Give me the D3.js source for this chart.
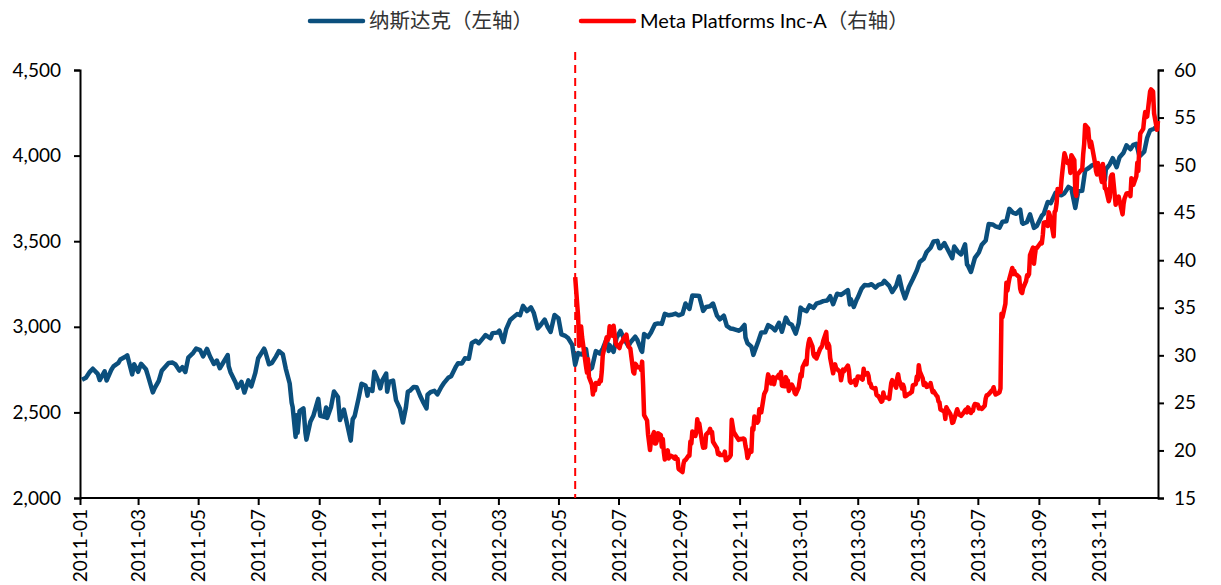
<!DOCTYPE html>
<html><head><meta charset="utf-8">
<script src="https://cdn.jsdelivr.net/npm/d3@7"></script>
<style>
body{margin:0;background:#fff;}
text{font-family:Lato,"Noto Sans CJK SC",sans-serif;fill:#000;}
</style></head><body>
<svg id="c" width="1221" height="585"></svg>
<script>
// ---- data ----
const seriesNames = ["纳斯达克（左轴）", "Meta Platforms Inc-A（右轴）"];
const leftTicks = [2000, 2500, 3000, 3500, 4000, 4500];
const rightTicks = [15, 20, 25, 30, 35, 40, 45, 50, 55, 60];
const xTickLabels = ["2011-01","2011-03","2011-05","2011-07","2011-09","2011-11","2012-01","2012-03","2012-05","2012-07","2012-09","2012-11","2013-01","2013-03","2013-05","2013-07","2013-09","2013-11"];
const ipoDate = "2012-05-18";
const nasdaq = [
["2011-01-03",2691],["2011-01-07",2703],["2011-01-11",2737],["2011-01-14",2755],["2011-01-19",2725],["2011-01-21",2689],["2011-01-26",2740],["2011-01-28",2686],
["2011-02-02",2751],["2011-02-04",2769],["2011-02-09",2789],["2011-02-11",2809],["2011-02-16",2825],["2011-02-18",2833],["2011-02-23",2722],["2011-02-25",2781],
["2011-03-01",2737],["2011-03-04",2784],["2011-03-09",2752],["2011-03-11",2715],["2011-03-16",2617],["2011-03-18",2643],["2011-03-22",2684],["2011-03-25",2743],
["2011-04-01",2789],["2011-04-05",2791],["2011-04-08",2780],["2011-04-12",2744],["2011-04-15",2764],["2011-04-18",2736],["2011-04-21",2820],["2011-04-26",2848],["2011-04-29",2873],
["2011-05-03",2864],["2011-05-06",2827],["2011-05-10",2871],["2011-05-13",2828],["2011-05-17",2783],["2011-05-20",2803],["2011-05-23",2758],["2011-05-27",2796],
["2011-05-31",2835],["2011-06-01",2770],["2011-06-03",2733],["2011-06-08",2675],["2011-06-10",2644],["2011-06-14",2678],["2011-06-17",2616],["2011-06-21",2687],["2011-06-24",2652],["2011-06-28",2729],
["2011-07-01",2816],["2011-07-07",2872],["2011-07-08",2859],["2011-07-12",2781],["2011-07-15",2789],["2011-07-19",2826],["2011-07-22",2858],["2011-07-26",2840],["2011-07-29",2756],
["2011-08-02",2669],["2011-08-04",2556],["2011-08-05",2532],["2011-08-08",2357],["2011-08-09",2483],["2011-08-10",2381],["2011-08-12",2507],["2011-08-16",2523],["2011-08-18",2381],["2011-08-19",2341],["2011-08-23",2446],["2011-08-26",2480],
["2011-08-31",2579],["2011-09-02",2480],["2011-09-06",2474],["2011-09-08",2529],["2011-09-09",2467],["2011-09-13",2532],["2011-09-16",2622],["2011-09-20",2590],["2011-09-22",2455],["2011-09-26",2517],["2011-09-30",2415],
["2011-10-03",2335],["2011-10-05",2460],["2011-10-07",2479],["2011-10-11",2583],["2011-10-14",2667],["2011-10-18",2657],["2011-10-20",2598],["2011-10-21",2637],["2011-10-25",2625],["2011-10-27",2738],["2011-10-31",2684],
["2011-11-02",2640],["2011-11-04",2686],["2011-11-08",2727],["2011-11-09",2621],["2011-11-11",2678],["2011-11-15",2686],["2011-11-18",2572],["2011-11-22",2522],["2011-11-25",2441],["2011-11-28",2527],["2011-11-30",2620],
["2011-12-02",2626],["2011-12-06",2649],["2011-12-09",2647],["2011-12-13",2591],["2011-12-16",2555],["2011-12-19",2523],["2011-12-20",2603],["2011-12-23",2618],["2011-12-27",2626],["2011-12-30",2605],
["2012-01-03",2648],["2012-01-06",2674],["2012-01-10",2702],["2012-01-13",2711],["2012-01-18",2769],["2012-01-20",2787],["2012-01-24",2786],["2012-01-27",2816],["2012-01-31",2814],
["2012-02-03",2906],["2012-02-07",2918],["2012-02-10",2904],["2012-02-14",2931],["2012-02-17",2952],["2012-02-22",2933],["2012-02-24",2963],["2012-02-29",2966],
["2012-03-02",2977],["2012-03-06",2911],["2012-03-09",2988],["2012-03-13",3040],["2012-03-16",3055],["2012-03-20",3074],["2012-03-23",3068],["2012-03-26",3122],["2012-03-30",3092],
["2012-04-03",3114],["2012-04-06",3080],["2012-04-10",2991],["2012-04-13",3011],["2012-04-17",3042],["2012-04-20",3000],["2012-04-23",2970],["2012-04-27",3069],
["2012-05-01",3050],["2012-05-04",2956],["2012-05-08",2947],["2012-05-11",2933],["2012-05-15",2894],["2012-05-18",2778],["2012-05-21",2847],["2012-05-25",2838],["2012-05-29",2870],
["2012-06-01",2747],["2012-06-04",2760],["2012-06-08",2858],["2012-06-12",2843],["2012-06-15",2872],["2012-06-19",2929],["2012-06-21",2859],["2012-06-22",2892],["2012-06-26",2854],["2012-06-29",2935],
["2012-07-03",2976],["2012-07-06",2937],["2012-07-11",2887],["2012-07-13",2908],["2012-07-18",2942],["2012-07-20",2925],["2012-07-24",2863],["2012-07-25",2854],["2012-07-27",2958],["2012-07-31",2940],
["2012-08-03",2967],["2012-08-07",3015],["2012-08-10",3020],["2012-08-14",3017],["2012-08-17",3076],["2012-08-21",3067],["2012-08-24",3070],["2012-08-28",3077],["2012-08-31",3067],
["2012-09-04",3075],["2012-09-07",3136],["2012-09-11",3104],["2012-09-14",3183],["2012-09-19",3182],["2012-09-21",3180],["2012-09-25",3093],["2012-09-28",3116],
["2012-10-02",3120],["2012-10-05",3136],["2012-10-09",3065],["2012-10-12",3044],["2012-10-16",3065],["2012-10-19",3005],["2012-10-23",2990],["2012-10-26",2987],["2012-10-31",2977],
["2012-11-02",2983],["2012-11-06",3011],["2012-11-07",2937],["2012-11-09",2904],["2012-11-13",2884],["2012-11-15",2836],["2012-11-16",2853],["2012-11-20",2916],["2012-11-23",2967],["2012-11-27",2968],["2012-11-30",3010],
["2012-12-04",2996],["2012-12-07",2979],["2012-12-11",3023],["2012-12-14",2971],["2012-12-18",3054],["2012-12-21",3021],["2012-12-24",3012],["2012-12-28",2960],["2012-12-31",3020],
["2013-01-02",3112],["2013-01-04",3101],["2013-01-08",3091],["2013-01-11",3125],["2013-01-15",3110],["2013-01-18",3135],["2013-01-22",3143],["2013-01-25",3150],["2013-01-29",3154],["2013-02-01",3179],
["2013-02-04",3132],["2013-02-08",3193],["2013-02-12",3186],["2013-02-15",3198],["2013-02-19",3214],["2013-02-21",3131],["2013-02-22",3161],["2013-02-25",3116],["2013-02-28",3160],
["2013-03-01",3170],["2013-03-05",3224],["2013-03-08",3244],["2013-03-12",3242],["2013-03-15",3249],["2013-03-19",3229],["2013-03-22",3245],["2013-03-26",3252],["2013-03-28",3268],
["2013-04-02",3239],["2013-04-05",3203],["2013-04-09",3238],["2013-04-12",3294],["2013-04-15",3217],["2013-04-18",3166],["2013-04-22",3233],["2013-04-26",3279],["2013-04-30",3329],
["2013-05-03",3378],["2013-05-07",3397],["2013-05-10",3437],["2013-05-14",3462],["2013-05-17",3498],["2013-05-21",3502],["2013-05-23",3459],["2013-05-24",3459],["2013-05-28",3489],["2013-05-31",3456],
["2013-06-05",3401],["2013-06-07",3469],["2013-06-11",3437],["2013-06-14",3423],["2013-06-18",3482],["2013-06-20",3364],["2013-06-21",3357],["2013-06-24",3320],["2013-06-28",3403],
["2013-07-02",3434],["2013-07-05",3479],["2013-07-09",3504],["2013-07-12",3600],["2013-07-16",3598],["2013-07-19",3587],["2013-07-23",3579],["2013-07-26",3613],["2013-07-30",3616],
["2013-08-02",3689],["2013-08-06",3665],["2013-08-09",3660],["2013-08-13",3684],["2013-08-15",3607],["2013-08-16",3602],["2013-08-20",3613],["2013-08-23",3657],["2013-08-27",3578],["2013-08-30",3590],
["2013-09-04",3649],["2013-09-06",3660],["2013-09-10",3729],["2013-09-13",3722],["2013-09-18",3783],["2013-09-20",3774],["2013-09-24",3768],["2013-09-27",3781],
["2013-10-01",3817],["2013-10-04",3807],["2013-10-08",3694],["2013-10-10",3760],["2013-10-11",3792],["2013-10-15",3794],["2013-10-18",3914],["2013-10-22",3929],["2013-10-25",3943],["2013-10-29",3952],
["2013-11-01",3922],["2013-11-05",3940],["2013-11-07",3857],["2013-11-08",3919],["2013-11-12",3949],["2013-11-15",3985],["2013-11-19",3932],["2013-11-22",3991],["2013-11-26",4017],["2013-11-29",4060],
["2013-12-03",4037],["2013-12-06",4063],["2013-12-09",4069],["2013-12-12",3999],["2013-12-13",4000],["2013-12-17",4023],["2013-12-20",4104],["2013-12-23",4148],["2013-12-27",4157],["2013-12-31",4177]
];
const meta = [
["2012-05-18",38.23],["2012-05-21",34.03],["2012-05-22",31.00],["2012-05-23",32.00],["2012-05-24",33.03],["2012-05-25",31.91],["2012-05-29",28.84],["2012-05-30",28.19],["2012-05-31",29.60],
["2012-06-01",27.72],["2012-06-04",26.90],["2012-06-05",25.87],["2012-06-06",26.81],["2012-06-07",26.31],["2012-06-08",27.10],["2012-06-11",27.01],["2012-06-12",27.40],["2012-06-13",27.27],["2012-06-14",28.29],["2012-06-15",30.01],
["2012-06-18",31.41],["2012-06-19",31.91],["2012-06-20",31.60],["2012-06-21",31.84],["2012-06-22",33.05],["2012-06-25",32.06],["2012-06-26",33.10],["2012-06-27",32.23],["2012-06-28",31.36],["2012-06-29",31.10],
["2012-07-02",30.77],["2012-07-03",31.20],["2012-07-05",31.47],["2012-07-06",31.73],["2012-07-09",32.17],["2012-07-10",31.47],["2012-07-11",30.97],["2012-07-12",30.81],["2012-07-13",30.72],
["2012-07-16",28.25],["2012-07-17",28.09],["2012-07-18",29.11],["2012-07-19",29.00],["2012-07-20",28.76],["2012-07-23",28.75],["2012-07-24",28.45],["2012-07-25",29.34],["2012-07-26",26.85],["2012-07-27",23.71],
["2012-07-30",23.15],["2012-07-31",21.71],["2012-08-01",20.88],["2012-08-02",20.04],["2012-08-03",21.09],["2012-08-06",21.92],["2012-08-07",20.72],["2012-08-08",20.72],["2012-08-09",21.01],["2012-08-10",21.81],
["2012-08-13",21.60],["2012-08-14",20.38],["2012-08-15",21.20],["2012-08-16",19.87],["2012-08-17",19.05],["2012-08-20",20.01],["2012-08-21",19.16],["2012-08-22",19.44],["2012-08-23",19.44],["2012-08-24",19.41],
["2012-08-27",19.15],["2012-08-28",19.34],["2012-08-29",19.10],["2012-08-30",19.09],["2012-08-31",18.06],["2012-09-04",17.73],["2012-09-05",18.58],["2012-09-06",18.96],["2012-09-07",18.98],
["2012-09-10",19.43],["2012-09-11",19.43],["2012-09-12",20.93],["2012-09-13",20.71],["2012-09-14",22.00],["2012-09-17",21.52],["2012-09-18",21.87],["2012-09-19",23.29],["2012-09-20",22.59],["2012-09-21",22.86],
["2012-09-24",20.79],["2012-09-25",20.28],["2012-09-26",20.62],["2012-09-27",20.32],["2012-09-28",21.66],["2012-10-01",21.99],["2012-10-02",22.27],["2012-10-03",21.83],["2012-10-04",21.95],["2012-10-05",20.91],
["2012-10-08",20.40],["2012-10-09",20.23],["2012-10-10",19.64],["2012-10-11",19.75],["2012-10-12",19.52],["2012-10-15",19.52],["2012-10-16",19.48],["2012-10-17",19.88],["2012-10-18",18.98],["2012-10-19",19.00],
["2012-10-22",19.32],["2012-10-23",19.50],["2012-10-24",23.23],["2012-10-25",22.56],["2012-10-26",21.94],["2012-10-31",21.11],["2012-11-01",21.21],["2012-11-02",21.18],["2012-11-05",21.25],["2012-11-06",21.17],
["2012-11-07",20.47],["2012-11-08",19.99],["2012-11-09",19.21],["2012-11-12",20.07],["2012-11-13",19.86],["2012-11-14",22.36],["2012-11-15",22.17],["2012-11-16",23.56],["2012-11-19",22.92],["2012-11-20",23.10],
["2012-11-21",24.32],["2012-11-23",24.00],["2012-11-26",25.94],["2012-11-27",26.15],["2012-11-28",26.36],["2012-11-29",27.32],["2012-11-30",28.00],["2012-12-03",27.04],["2012-12-04",27.46],["2012-12-05",27.71],
["2012-12-06",26.97],["2012-12-07",27.49],["2012-12-10",27.84],["2012-12-11",27.98],["2012-12-12",27.58],["2012-12-13",28.24],["2012-12-14",26.81],["2012-12-17",26.75],["2012-12-18",27.71],["2012-12-19",27.41],
["2012-12-20",27.36],["2012-12-21",26.26],["2012-12-24",26.93],["2012-12-26",26.51],["2012-12-27",26.05],["2012-12-28",25.91],["2012-12-31",26.62],
["2013-01-02",28.00],["2013-01-03",27.77],["2013-01-04",28.76],["2013-01-07",29.42],["2013-01-08",29.06],["2013-01-09",30.59],["2013-01-10",31.30],["2013-01-11",31.72],["2013-01-14",30.95],["2013-01-15",30.10],
["2013-01-16",29.85],["2013-01-17",30.14],["2013-01-18",29.66],["2013-01-22",30.73],["2013-01-23",30.82],["2013-01-24",31.08],["2013-01-25",31.54],["2013-01-28",32.47],["2013-01-29",30.79],["2013-01-30",31.24],
["2013-01-31",30.98],["2013-02-01",29.73],["2013-02-04",28.11],["2013-02-05",28.64],["2013-02-06",29.05],["2013-02-07",28.65],["2013-02-08",28.55],["2013-02-11",28.26],["2013-02-12",27.37],["2013-02-13",27.91],
["2013-02-14",28.50],["2013-02-15",28.32],["2013-02-19",28.93],["2013-02-20",28.46],["2013-02-21",27.28],["2013-02-22",27.13],["2013-02-25",27.27],["2013-02-26",27.39],["2013-02-27",26.87],["2013-02-28",27.25],
["2013-03-01",27.78],["2013-03-04",27.72],["2013-03-05",27.52],["2013-03-06",27.45],["2013-03-07",28.58],["2013-03-08",27.96],["2013-03-11",28.14],["2013-03-12",27.83],["2013-03-13",27.08],["2013-03-14",27.04],
["2013-03-15",26.65],["2013-03-18",26.49],["2013-03-19",26.55],["2013-03-20",25.86],["2013-03-21",25.74],["2013-03-22",25.73],["2013-03-25",25.13],["2013-03-26",25.21],["2013-03-27",26.09],["2013-03-28",25.58],
["2013-04-01",25.53],["2013-04-02",25.42],["2013-04-03",26.25],["2013-04-04",27.07],["2013-04-05",27.39],["2013-04-08",26.85],["2013-04-09",26.59],["2013-04-10",27.57],["2013-04-11",28.02],["2013-04-12",27.40],
["2013-04-15",26.52],["2013-04-16",26.92],["2013-04-17",26.63],["2013-04-18",25.69],["2013-04-19",25.73],["2013-04-22",25.97],["2013-04-23",25.98],["2013-04-24",26.11],["2013-04-25",26.14],["2013-04-26",26.85],
["2013-04-29",26.98],["2013-04-30",27.77],["2013-05-01",27.43],["2013-05-02",28.97],["2013-05-03",28.31],["2013-05-06",27.57],["2013-05-07",26.89],["2013-05-08",27.12],["2013-05-09",27.04],["2013-05-10",26.68],
["2013-05-13",26.82],["2013-05-14",27.07],["2013-05-15",26.60],["2013-05-16",26.13],["2013-05-17",26.25],["2013-05-20",25.76],["2013-05-21",25.66],["2013-05-22",25.16],["2013-05-23",25.06],["2013-05-24",24.31],
["2013-05-28",24.10],["2013-05-29",23.32],["2013-05-30",24.55],["2013-05-31",24.35],["2013-06-03",23.85],["2013-06-04",23.52],["2013-06-05",22.90],["2013-06-06",22.97],["2013-06-07",23.29],["2013-06-10",24.33],
["2013-06-11",24.03],["2013-06-12",23.77],["2013-06-13",23.73],["2013-06-14",23.63],["2013-06-17",24.02],["2013-06-18",24.21],["2013-06-19",24.31],["2013-06-20",24.00],["2013-06-21",24.53],["2013-06-24",23.94],
["2013-06-25",24.25],["2013-06-26",24.16],["2013-06-27",24.66],["2013-06-28",24.88],["2013-07-01",24.81],["2013-07-02",24.41],["2013-07-03",24.52],["2013-07-05",24.37],["2013-07-08",24.71],["2013-07-09",25.48],
["2013-07-10",25.80],["2013-07-11",25.81],["2013-07-12",25.91],["2013-07-15",26.28],["2013-07-16",26.32],["2013-07-17",26.65],["2013-07-18",26.18],["2013-07-19",25.88],["2013-07-22",26.05],["2013-07-23",26.13],
["2013-07-24",26.51],["2013-07-25",34.36],["2013-07-26",34.01],["2013-07-29",35.43],["2013-07-30",37.63],["2013-07-31",36.80],["2013-08-01",37.49],["2013-08-02",38.05],["2013-08-05",39.19],["2013-08-06",38.55],
["2013-08-07",38.87],["2013-08-08",38.54],["2013-08-09",38.50],["2013-08-12",38.22],["2013-08-13",37.02],["2013-08-14",36.65],["2013-08-15",36.56],["2013-08-16",37.08],["2013-08-19",37.81],["2013-08-20",38.41],
["2013-08-21",38.32],["2013-08-22",38.55],["2013-08-23",40.55],["2013-08-26",41.34],["2013-08-27",39.64],["2013-08-28",40.55],["2013-08-29",41.28],["2013-08-30",41.29],["2013-09-03",41.87],["2013-09-04",41.78],
["2013-09-05",42.66],["2013-09-06",43.95],["2013-09-09",44.04],["2013-09-10",43.60],["2013-09-11",45.04],["2013-09-12",44.75],["2013-09-13",44.31],["2013-09-16",42.51],["2013-09-17",45.07],["2013-09-18",45.23],
["2013-09-19",45.98],["2013-09-20",47.49],["2013-09-23",47.19],["2013-09-24",48.45],["2013-09-25",49.46],["2013-09-26",50.39],["2013-09-27",51.24],["2013-09-30",50.23],["2013-10-01",50.42],["2013-10-02",50.28],
["2013-10-03",49.18],["2013-10-04",51.04],["2013-10-07",50.52],["2013-10-08",47.14],["2013-10-09",46.77],["2013-10-10",49.05],["2013-10-11",49.11],["2013-10-14",49.51],["2013-10-15",49.50],["2013-10-16",51.14],
["2013-10-17",52.21],["2013-10-18",54.22],["2013-10-21",53.85],["2013-10-22",52.68],["2013-10-23",51.90],["2013-10-24",52.45],["2013-10-25",51.95],["2013-10-28",50.23],["2013-10-29",49.40],["2013-10-30",49.01],
["2013-10-31",50.21],["2013-11-01",49.75],["2013-11-04",48.22],["2013-11-05",50.11],["2013-11-06",49.12],["2013-11-07",47.56],["2013-11-08",47.53],["2013-11-11",46.20],["2013-11-12",46.61],["2013-11-13",48.71],
["2013-11-14",48.99],["2013-11-15",49.01],["2013-11-18",45.83],["2013-11-19",46.36],["2013-11-20",46.43],["2013-11-21",46.70],["2013-11-22",46.23],["2013-11-25",44.82],["2013-11-26",45.89],["2013-11-27",46.49],
["2013-11-29",47.01],["2013-12-02",47.06],["2013-12-03",46.73],["2013-12-04",48.62],["2013-12-05",48.34],["2013-12-06",47.94],["2013-12-09",48.84],["2013-12-10",50.25],["2013-12-11",49.38],["2013-12-12",51.83],
["2013-12-13",53.32],["2013-12-16",53.81],["2013-12-17",54.86],["2013-12-18",55.57],["2013-12-19",55.05],["2013-12-20",55.12],["2013-12-23",57.77],["2013-12-24",57.96],["2013-12-26",57.73],["2013-12-27",55.44],
["2013-12-30",53.71],["2013-12-31",54.65]
];
const colors = ["#0B4F7D", "#FF0000"];

// ---- chart ----
const parse = d3.timeParse("%Y-%m-%d");
const svg = d3.select("#c");
const L = 80, R = 1158, T = 70, B = 498;
const x = d3.scaleTime().domain([parse("2011-01-01"), parse("2013-12-31")]).range([L, R]);
const yL = d3.scaleLinear().domain([2000, 4500]).range([B, T]);
const yR = d3.scaleLinear().domain([15, 60]).range([B, T]);
const fmt = d3.format(",");

// left axis
const gL = svg.append("g").attr("transform", `translate(${L},0)`)
  .call(d3.axisLeft(yL).tickValues(leftTicks).tickFormat(fmt).tickSizeOuter(0).tickSize(6).tickPadding(13));
// right axis
const gR = svg.append("g").attr("transform", `translate(${R},0)`)
  .call(d3.axisRight(yR).tickValues(rightTicks).tickSizeOuter(0).tickSize(6).tickPadding(10));
// bottom axis
const xTicks = xTickLabels.map(s => parse(s + "-01"));
const gB = svg.append("g").attr("transform", `translate(0,${B})`)
  .call(d3.axisBottom(x).tickValues(xTicks).tickFormat(d3.timeFormat("%Y-%m")).tickSizeOuter(0).tickSize(7));
gB.selectAll("text").attr("transform", "rotate(-90)").attr("text-anchor", "end")
  .attr("x", -11).attr("y", 0).attr("dy", "0.35em");
[gL, gR, gB].forEach(g => {
  g.select(".domain").attr("stroke", "#000").attr("stroke-width", 2);
  g.selectAll(".tick line").attr("stroke", "#000").attr("stroke-width", 2);
  g.selectAll("text").style("font-size", "19px").style("font-family", "Lato, sans-serif").attr("fill", "#000");
});
gB.select(".domain").attr("d", `M${L},0H${R}`);

// IPO dashed line
svg.append("line")
  .attr("x1", x(parse(ipoDate))).attr("x2", x(parse(ipoDate)))
  .attr("y1", 52).attr("y2", B)
  .attr("stroke", "#FF0000").attr("stroke-width", 2).attr("stroke-dasharray", "8,5");

// lines
const lineL = d3.line().x(d => x(parse(d[0]))).y(d => yL(d[1]));
const lineR = d3.line().x(d => x(parse(d[0]))).y(d => yR(d[1]));
svg.append("path").datum(nasdaq).attr("d", lineL).attr("fill", "none")
  .attr("stroke", colors[0]).attr("stroke-width", 4.5).attr("stroke-linejoin", "round");
svg.append("path").datum(meta).attr("d", lineR).attr("fill", "none")
  .attr("stroke", colors[1]).attr("stroke-width", 4.5).attr("stroke-linejoin", "round");

// legend
const legendX = [310, 581];
seriesNames.forEach((n, i) => {
  svg.append("line").attr("x1", legendX[i]).attr("x2", legendX[i] + 53)
    .attr("y1", 21).attr("y2", 21).attr("stroke", colors[i]).attr("stroke-width", 4.5).attr("stroke-linecap", "round");
  const t = svg.append("text").attr("x", legendX[i] + 59).attr("y", 28);
  // split into latin and CJK runs for sizing
  const runs = n.match(/[\u3000-\u9fff\uff00-\uffef]+|[^\u3000-\u9fff\uff00-\uffef]+/g);
  runs.forEach(r => {
    const cjk = /[\u3000-\u9fff\uff00-\uffef]/.test(r);
    t.append("tspan").text(r)
      .style("font-size", cjk ? "20.5px" : "20px")
      .style("font-family", cjk ? "'Noto Sans CJK SC', sans-serif" : "Lato, sans-serif")
      .attr("fill", cjk ? "#333" : "#000");
  });
});
</script>
</body></html>
